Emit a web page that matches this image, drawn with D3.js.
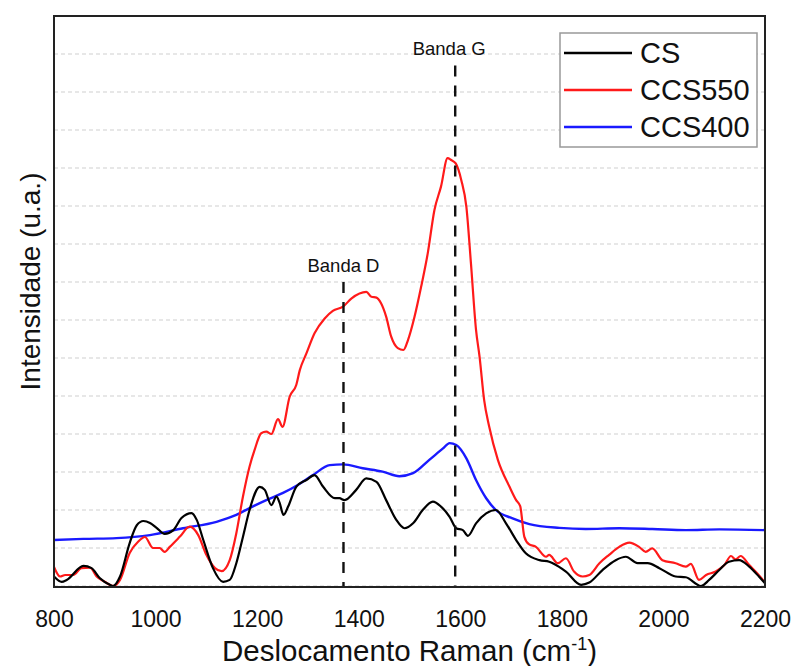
<!DOCTYPE html>
<html><head><meta charset="utf-8">
<script src="https://cdn.jsdelivr.net/npm/d3@7"></script>
<style>body{margin:0;background:#fff}</style>
</head><body>
<svg id="chart" width="793" height="666"></svg>
<script>
// ---- data ----
const xTicks = [800, 1000, 1200, 1400, 1600, 1800, 2000, 2200];
const seriesNames = ["CS", "CCS550", "CCS400"];
const seriesColors = ["#000000", "#ff1a1a", "#1a1aff"];

const csX = [800,815,825,858,874,890,910,916,930,949,963,976,989,1002,1018,1035,1051,1071,1081,1094,1113,1133,1146,1159,1172,1185,1205,1215,1228,1238,1244,1252,1261,1277,1297,1313,1330,1353,1362,1372,1395,1415,1435,1454,1474,1490,1507,1526,1546,1562,1579,1592,1605,1615,1631,1651,1670,1690,1710,1729,1756,1775,1782,1808,1838,1854,1880,1906,1926,1949,1969,1992,2024,2044,2074,2090,2110,2129,2149,2169,2188,2200];
const csY = [0.25,0.11,0.16,0.53,0.47,0.21,0.03,0,0.25,1.13,1.6,1.71,1.66,1.53,1.37,1.47,1.79,1.92,1.74,1.21,0.47,0.11,0.16,0.6,1.29,2.0,2.61,2.53,2.13,2.35,2.2,1.87,2.09,2.61,2.79,2.92,2.61,2.31,2.31,2.26,2.53,2.83,2.74,2.26,1.74,1.52,1.65,2.0,2.22,2.09,1.82,1.52,1.47,1.32,1.65,1.91,2.0,1.65,1.21,0.86,0.68,0.64,0.6,0.38,0.03,0.09,0.42,0.68,0.77,0.6,0.6,0.47,0.25,0.23,0,0.16,0.42,0.64,0.68,0.51,0.25,0.07];

const ccs550X = [800,812,822,838,854,871,884,900,917,930,949,966,979,995,1008,1018,1028,1048,1067,1084,1100,1117,1130,1146,1159,1172,1185,1195,1208,1218,1228,1241,1250,1264,1277,1284,1297,1313,1333,1349,1369,1386,1415,1425,1435,1444,1454,1464,1477,1488,1497,1510,1523,1536,1549,1562,1575,1582,1591,1602,1612,1621,1631,1638,1647,1657,1674,1697,1710,1718,1726,1735,1749,1769,1775,1792,1808,1824,1841,1854,1874,1893,1913,1933,1952,1965,1978,1998,2024,2044,2054,2070,2084,2103,2120,2133,2142,2152,2169,2185,2200];
const ccs550Y = [0.5,0.25,0.29,0.29,0.47,0.48,0.25,0.11,0,0.16,0.87,1.17,1.29,1.0,1.0,0.9,1.03,1.3,1.56,1.34,0.82,0.47,0.39,0.68,1.39,2.35,3.14,3.58,4.02,4.06,4.0,4.39,4.19,4.98,5.29,5.68,6.12,6.65,7.04,7.24,7.35,7.57,7.74,7.61,7.59,7.44,7.09,6.56,6.26,6.21,6.47,7.09,7.88,8.76,9.89,10.51,11.26,11.21,11.12,10.68,9.98,8.49,6.74,6.03,4.89,4.19,3.32,2.61,2.26,2.1,1.3,1.1,1.03,0.77,0.82,0.6,0.73,0.38,0.25,0.29,0.6,0.82,1.03,1.14,1.03,0.9,0.99,0.68,0.6,0.51,0.58,0.16,0.29,0.38,0.55,0.79,0.7,0.79,0.55,0.33,0.09];

const ccs400X = [800,858,923,989,1054,1120,1159,1185,1218,1251,1280,1310,1343,1369,1408,1447,1480,1507,1539,1566,1579,1592,1612,1631,1651,1670,1703,1736,1795,1847,1913,1978,2044,2110,2200];
const ccs400Y = [1.21,1.24,1.26,1.34,1.52,1.69,1.87,2.05,2.26,2.45,2.66,2.92,3.18,3.2,3.1,3.01,2.89,2.97,3.32,3.62,3.76,3.71,3.36,2.79,2.31,2.0,1.78,1.63,1.53,1.5,1.52,1.5,1.47,1.49,1.47];

const bandNames = ["Banda D", "Banda G"];
const bandX = [1370, 1590];
const bandTop = [8.0, 13.7];

// ---- layout ----
const L = 54, R = 765, T = 16, B = 587;
const FONT = "'Liberation Sans', Arial, Helvetica, sans-serif";
const svg = d3.select("#chart").style("font-family", FONT);
const x = d3.scaleLinear().domain([800, 2200]).range([L, R]);
const y = d3.scaleLinear().domain([0, 15]).range([586, T]);

// gridlines
svg.append("g").selectAll("line").data(d3.range(0, 15)).join("line")
  .attr("x1", L).attr("x2", R)
  .attr("y1", d => y(d)).attr("y2", d => y(d))
  .attr("stroke", "#cfcfcf").attr("stroke-width", 1).attr("stroke-dasharray", "4,3");

svg.append("defs").append("clipPath").attr("id", "clip")
  .append("rect").attr("x", L).attr("y", T).attr("width", R - L).attr("height", B - T);

const line = d3.line().x(d => x(d[0])).y(d => y(d[1])).curve(d3.curveMonotoneX);
const series = [
  {name: seriesNames[2], color: seriesColors[2], xs: ccs400X, ys: ccs400Y, w: 2.4},
  {name: seriesNames[1], color: seriesColors[1], xs: ccs550X, ys: ccs550Y, w: 2.2},
  {name: seriesNames[0], color: seriesColors[0], xs: csX, ys: csY, w: 2.2}
];
const gLines = svg.append("g").attr("clip-path", "url(#clip)");
series.forEach(s => {
  gLines.append("path").datum(d3.zip(s.xs, s.ys))
    .attr("d", line).attr("fill", "none")
    .attr("stroke", s.color).attr("stroke-width", s.w).attr("stroke-linejoin", "round");
});

// band markers
const labelOffset = [0, -6];
bandX.forEach((bx, i) => {
  svg.append("line")
    .attr("x1", x(bx)).attr("x2", x(bx))
    .attr("y1", y(bandTop[i])).attr("y2", B)
    .attr("stroke", "#111").attr("stroke-width", 2.4).attr("stroke-dasharray", "11,9");
  svg.append("text")
    .attr("x", x(bx) + labelOffset[i]).attr("y", y(bandTop[i]) - 10)
    .attr("text-anchor", "middle").attr("font-size", 18.5).attr("fill", "#111")
    .text(bandNames[i]);
});

// frame
svg.append("rect").attr("x", L).attr("y", T).attr("width", R - L).attr("height", B - T)
  .attr("fill", "none").attr("stroke", "#222").attr("stroke-width", 2);

// x axis labels
const xAxis = d3.axisBottom(x).tickValues(xTicks).tickSize(0).tickFormat(d3.format("d"));
const gx = svg.append("g").attr("transform", `translate(0,${B})`).call(xAxis);
gx.select(".domain").remove();
gx.selectAll("text").attr("y", 40).attr("dy", 0)
  .attr("font-size", 23).attr("font-family", FONT).attr("fill", "#111");

// axis titles
const xt = svg.append("text").attr("x", (L + R) / 2).attr("y", 661)
  .attr("text-anchor", "middle").attr("font-size", 29.5).attr("fill", "#111");
xt.append("tspan").text("Deslocamento Raman (cm");
xt.append("tspan").attr("font-size", 18).attr("dy", -11).text("-1");
xt.append("tspan").attr("dy", 11).text(")");

svg.append("text").attr("transform", `translate(40,${(T + B) / 2 - 20}) rotate(-90)`)
  .attr("text-anchor", "middle").attr("font-size", 28).attr("fill", "#111")
  .text("Intensidade (u.a.)");

// legend
const lg = svg.append("g");
lg.append("rect").attr("x", 560).attr("y", 33).attr("width", 197).attr("height", 114)
  .attr("fill", "#fff").attr("stroke", "#999").attr("stroke-width", 1.5);
seriesNames.forEach((n, i) => {
  const ly = 53 + i * 37;
  lg.append("line").attr("x1", 564).attr("x2", 632).attr("y1", ly).attr("y2", ly)
    .attr("stroke", seriesColors[i]).attr("stroke-width", 2.5);
  lg.append("text").attr("x", 640).attr("y", ly + 10).attr("font-size", 29)
    .attr("fill", "#111").text(n);
});
</script>
</body></html>
